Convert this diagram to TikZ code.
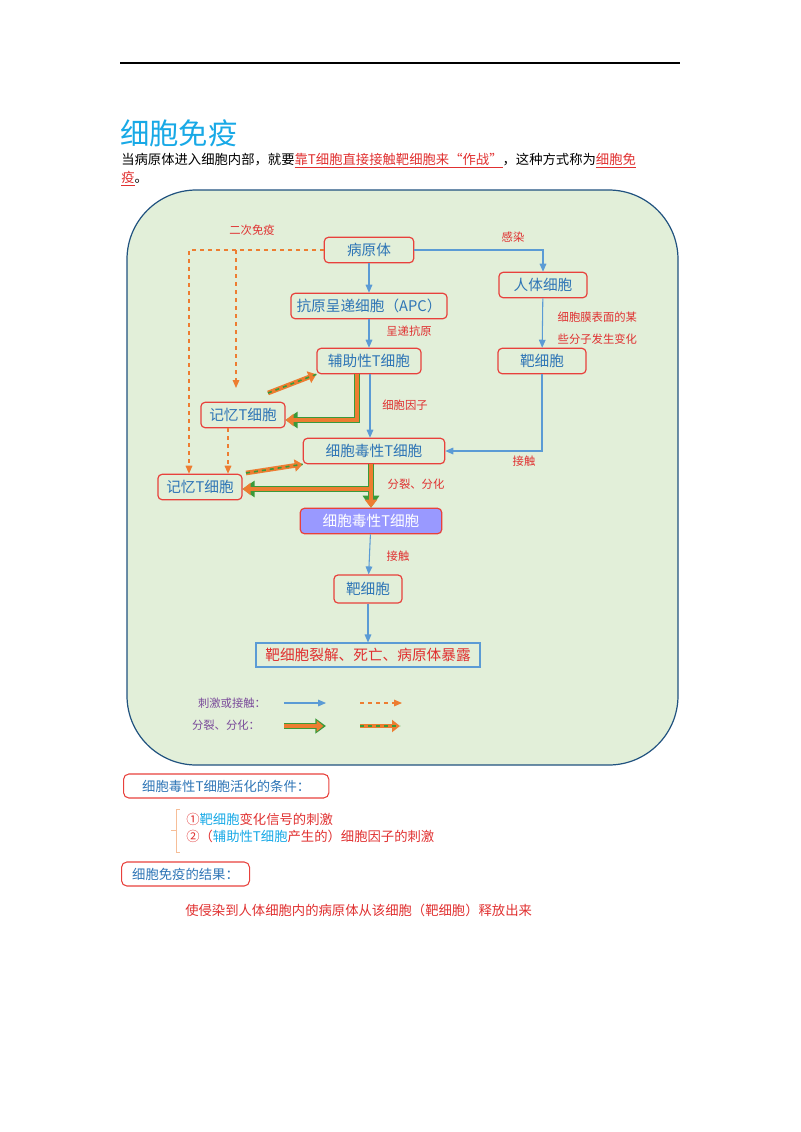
\documentclass[tikz,border=0pt]{standalone}
\usepackage{fontspec}
\setmainfont{Noto Sans CJK SC}
\usetikzlibrary{arrows.meta,positioning}
\definecolor{boxRed}{HTML}{E8413C}
\definecolor{txtBlue}{HTML}{2E75B6}
\definecolor{lineBlue}{HTML}{5B9BD5}
\definecolor{dashOrange}{HTML}{ED7D31}
\definecolor{bgGreen}{HTML}{E2EFD9}
\definecolor{arrGreen}{HTML}{3A9A3A}
\definecolor{lblRed}{HTML}{E03030}
\definecolor{lblPurple}{HTML}{7A4A9A}
\definecolor{cyanTitle}{HTML}{18A9E6}
\begin{document}
\begin{tikzpicture}[x=0.75pt,y=-0.75pt,
  cellBox/.style={draw=boxRed,line width=0.9pt,rounded corners=3pt,fill=bgGreen,
    text=txtBlue,font=\fontsize{11}{12}\selectfont,minimum height=19pt,inner xsep=4pt},
  lbl/.style={text=lblRed,font=\fontsize{8.5}{10}\selectfont},
  blueArrow/.style={draw=lineBlue,line width=0.8pt,-{Triangle[length=6pt,width=5pt]}},
  dashArrow/.style={draw=dashOrange,line width=0.8pt,dashed,-{Triangle[length=6pt,width=5pt]}},
  fatGreen/.style={draw=arrGreen,line width=5pt},
  fatOrange/.style={draw=dashOrange,line width=2.6pt},
  noteBox/.style={draw=boxRed,line width=0.8pt,rounded corners=4pt,text=txtBlue,
    font=\fontsize{10}{12}\selectfont,minimum height=18pt,anchor=west}]
\useasboundingbox (0,0) rectangle (800,1132);
\draw[line width=0.8pt] (120,63) -- (680,63);
\node[anchor=west,text=cyanTitle,font=\fontsize{22}{24}\selectfont,inner sep=0] (title) at (120,133) {细胞免疫};
\node[anchor=west,inner sep=0,font=\fontsize{10}{12}\selectfont] (para1) at (121,161)
  {当病原体进入细胞内部，就要\textcolor{lblRed}{\underline{靠T细胞直接接触靶细胞来“作战”}}，这种方式称为\textcolor{lblRed}{\underline{细胞免}}};
\node[anchor=west,inner sep=0,font=\fontsize{10}{12}\selectfont] (para2) at (121,179) {\textcolor{lblRed}{\underline{疫}}。};
% main panel
\draw[draw=txtBlue!70!black,line width=0.9pt,fill=bgGreen,rounded corners=52pt] (127,190) rectangle (678,765);
% cells
\node[cellBox,minimum width=67pt] (pathogen) at (369,250) {病原体};
\node[cellBox,minimum width=66pt] (hostCell) at (543,285) {人体细胞};
\node[cellBox,minimum width=117pt] (apc) at (369,306) {抗原呈递细胞（APC）};
\node[cellBox,minimum width=78pt] (helperT) at (369,361) {辅助性T细胞};
\node[cellBox,minimum width=66pt] (targetR) at (542,361) {靶细胞};
\node[cellBox,minimum width=63pt] (memT1) at (243,415) {记忆T细胞};
\node[cellBox,minimum width=106pt] (cytoT) at (374,451) {细胞毒性T细胞};
\node[cellBox,minimum width=63pt] (memT2) at (200,487) {记忆T细胞};
\node[cellBox,minimum width=106pt,fill=blue!40!white,text=white] (cytoT2) at (371,521) {细胞毒性T细胞};
\node[cellBox,minimum width=51pt,minimum height=21pt] (targetB) at (368,589) {靶细胞};
\node[draw=lineBlue,line width=0.8pt,fill=bgGreen,text=lblRed,font=\fontsize{11}{12}\selectfont,
  minimum width=168pt,minimum height=18pt] (lysis) at (368,655) {靶细胞裂解、死亡、病原体暴露};
% labels
\node[lbl] (lblSecond) at (252,230) {二次免疫};
\node[lbl] (lblInfect) at (513,237) {感染};
\node[lbl] (lblPresent) at (409,331) {呈递抗原};
\node[lbl,anchor=west] (lblChange1) at (553,317) {细胞膜表面的某};
\node[lbl,anchor=west] (lblChange2) at (553,339) {些分子发生变化};
\node[lbl] (lblFactor) at (405,405) {细胞因子};
\node[lbl] (lblContact1) at (524,461) {接触};
\node[lbl] (lblDivide) at (416,484) {分裂、分化};
\node[lbl] (lblContact2) at (398,556) {接触};
% blue connectors
\draw[blueArrow] (pathogen) -- (apc);
\draw[blueArrow] (apc) -- (helperT);
\draw[blueArrow] (helperT.south -| 370,0) -- (cytoT.north -| 370,0);
\draw[blueArrow] (pathogen.east) -| (hostCell.north);
\draw[blueArrow] (hostCell) -- (targetR);
\draw[blueArrow] (targetR.south) |- (cytoT.east);
\draw[blueArrow] (cytoT2) -- (targetB);
\draw[blueArrow] (targetB) -- (lysis);
% dashed orange connectors
\coordinate (memTop1) at (236,388);
\draw[dashArrow] (pathogen.west) -| (memT2.north -| 189,0);
\draw[dashArrow] (236,250) -- (memTop1);
\draw[dashArrow] (memT1.south -| 228,0) -- (memT2.north -| 228,0);
% thick divide arrows
\coordinate (bendA) at (357,420);
\coordinate (bendB) at (371,489);
\foreach \sty/\tip in {fatGreen/9pt,fatOrange/6pt}{
  \draw[\sty,-{Triangle[length=\tip,width=\tip+3pt]}] (helperT.south -| bendA) -- (bendA) -- (memT1.east |- bendA);
  \draw[\sty,-{Triangle[length=\tip,width=\tip+3pt]}] (cytoT.south -| bendB) -- (cytoT2.north -| bendB);
  \draw[\sty,-{Triangle[length=\tip,width=\tip+3pt]}] (bendB) -- (memT2.east |- bendB);
}
% hatched divide arrows
\coordinate (hatchA) at (268,393);
\coordinate (hatchB) at (246,473);
\draw[fatOrange,line width=3.5pt,-{Triangle[length=6pt,width=9pt]}] (hatchA) -- (helperT.south west);
\draw[arrGreen,line width=1.2pt,dashed] (hatchA) -- (helperT.south west);
\draw[fatOrange,line width=3.5pt,-{Triangle[length=6pt,width=9pt]}] (hatchB) -- (cytoT.south west);
\draw[arrGreen,line width=1.2pt,dashed] (hatchB) -- (cytoT.south west);
% legend
\node[text=lblPurple,font=\fontsize{8.5}{10}\selectfont] (legStim) at (232,703) {刺激或接触：};
\node[text=lblPurple,font=\fontsize{8.5}{10}\selectfont] (legDiv) at (226,725) {分裂、分化：};
\coordinate (ls1) at (284,703); \coordinate (le1) at (326,703);
\coordinate (ls2) at (360,703); \coordinate (le2) at (402,703);
\coordinate (ls3) at (284,726); \coordinate (le3) at (326,726);
\coordinate (ls4) at (360,726); \coordinate (le4) at (400,726);
\draw[blueArrow] (ls1) -- (le1);
\draw[dashArrow] (ls2) -- (le2);
\draw[fatGreen,-{Triangle[length=8pt,width=11pt]}] (ls3) -- (le3);
\draw[fatOrange,-{Triangle[length=5pt,width=8pt]}] (ls3) -- ([xshift=-2pt]le3);
\draw[fatOrange,line width=3.5pt,-{Triangle[length=6pt,width=9pt]}] (ls4) -- (le4);
\draw[arrGreen,line width=1.2pt,dashed] (ls4) -- (le4);
% notes below
\node[noteBox,minimum width=154pt] (condBox) at (123,786) {细胞毒性T细胞活化的条件：};
\draw[dashOrange!50,line width=0.6pt] (180,809) -- (176,809) -- (176,852) -- (180,852) (176,830) -- (171,830);
\node[anchor=west,inner sep=0,text=lblRed,font=\fontsize{10}{12}\selectfont] (cond1) at (186,819) {①\textcolor{cyanTitle}{靶细胞}变化信号的刺激};
\node[anchor=west,inner sep=0,text=lblRed,font=\fontsize{10}{12}\selectfont] (cond2) at (186,836) {②（\textcolor{cyanTitle}{辅助性T细胞}产生的）细胞因子的刺激};
\node[noteBox,minimum width=96pt] (resBox) at (121,874) {细胞免疫的结果：};
\node[anchor=west,inner sep=0,text=lblRed,font=\fontsize{10}{12}\selectfont] (result) at (185,910) {使侵染到人体细胞内的病原体从该细胞（靶细胞）释放出来};
\end{tikzpicture}
\end{document}
